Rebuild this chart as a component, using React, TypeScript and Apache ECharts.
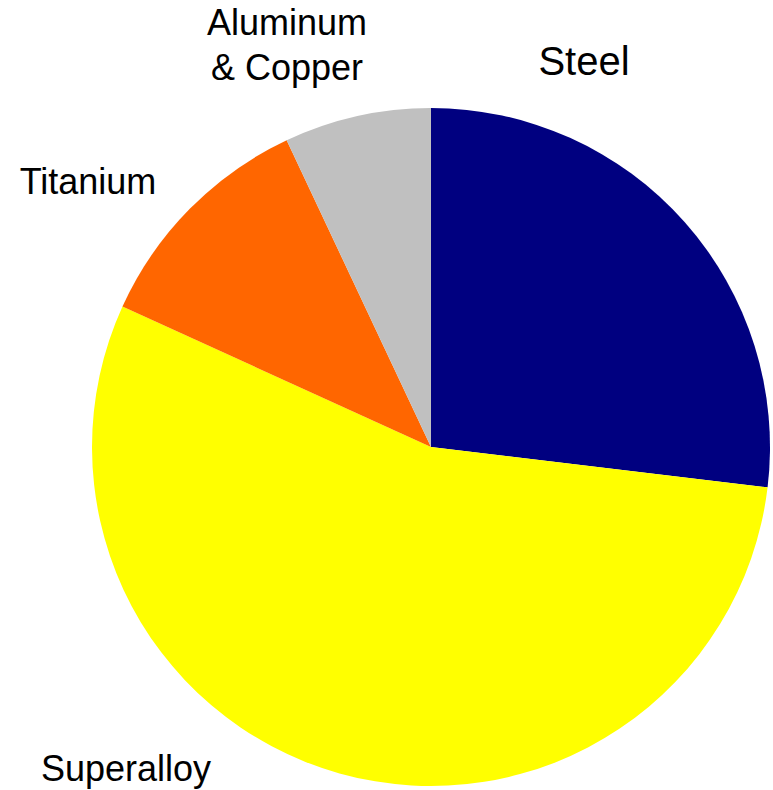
import React, { useEffect, useRef } from "react";
import * as echarts from "echarts";

const categories = ["Steel", "Superalloy", "Titanium", "Aluminum\n& Copper"];
const values = [26.9, 54.9, 11.2, 7.0];
const colors = ["#000080", "#FFFF00", "#FF6600", "#C0C0C0"];
const labelSizes = [40, 36, 36, 36];
const labelPos = [
  [584, 61],
  [126, 768],
  [88, 181],
  [287, 45],
];

export default function App() {
  const ref = useRef<HTMLDivElement>(null);
  useEffect(() => {
    document.body.style.margin = "0";
    const chart = echarts.init(ref.current!, undefined, { renderer: "svg" });
    chart.setOption({
      animation: false,
      backgroundColor: "#ffffff",
      series: [
        {
          type: "pie",
          center: [431, 447],
          radius: 339,
          startAngle: 90,
          clockwise: true,
          data: categories.map((c, i) => ({
            name: c,
            value: values[i],
            itemStyle: { color: colors[i] },
            label: { fontSize: labelSizes[i] },
          })),
          itemStyle: { borderWidth: 0 },
          label: {
            show: true,
            position: "outside",
            formatter: "{b}",
            fontFamily: "Liberation Sans, Arial, sans-serif",
            fontSize: 36,
            lineHeight: 45,
            color: "#000",
            align: "center",
            overflow: "none",
            width: 300,
          },
          labelLine: { show: false },
          labelLayout: (params: any) => ({
            x: labelPos[params.dataIndex][0],
            y: labelPos[params.dataIndex][1],
            align: "center",
            verticalAlign: "middle",
          }),
          emphasis: { disabled: true },
        },
      ],
    });
    return () => chart.dispose();
  }, []);
  return <div ref={ref} style={{ width: 773, height: 790 }} />;
}
